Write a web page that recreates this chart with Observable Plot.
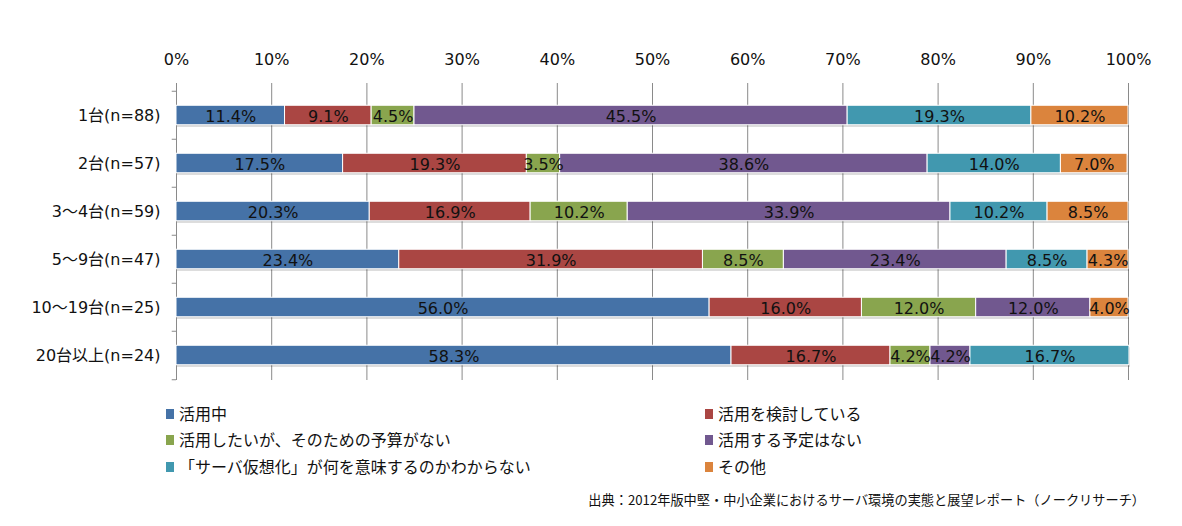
<!DOCTYPE html>
<html>
<head>
<meta charset="utf-8">
<script src="https://cdn.jsdelivr.net/npm/d3@7"></script>
<script src="https://cdn.jsdelivr.net/npm/@observablehq/plot@0.6"></script>
<style>
  body { margin: 0; background: #fff; }
  #wrap { position: relative; width: 1182px; height: 526px; overflow: hidden; font-family: "DejaVu Sans", "Noto Sans CJK JP", sans-serif; }
  .lg { position: absolute; font-family: "Noto Sans CJK JP", sans-serif; font-size: 16px; color: #111; line-height: 20px; white-space: nowrap; }
  .sw { position: absolute; width: 8px; height: 10px; }
  #src { position: absolute; right: 37px; top: 490px; font-family: "Noto Sans CJK JP", sans-serif; font-size: 13.2px; color: #111; white-space: nowrap; }
</style>
</head>
<body>
<div id="wrap"><div id="chart"></div></div>
<script>
const categories = ["1台(n=88)", "2台(n=57)", "3～4台(n=59)", "5～9台(n=47)", "10～19台(n=25)", "20台以上(n=24)"];
const series = ["活用中", "活用を検討している", "活用したいが、そのための予算がない", "活用する予定はない", "「サーバ仮想化」が何を意味するのかわからない", "その他"];
const colors = ["#4572A7", "#AA4643", "#89A54E", "#71588F", "#4198AF", "#DB843D"];
const katsuyou  = [11.4, 17.5, 20.3, 23.4, 56.0, 58.3];
const kentou    = [9.1, 19.3, 16.9, 31.9, 16.0, 16.7];
const yosan     = [4.5, 3.5, 10.2, 8.5, 12.0, 4.2];
const yotei     = [45.5, 38.6, 33.9, 23.4, 12.0, 4.2];
const wakaranai = [19.3, 14.0, 10.2, 8.5, 0, 16.7];
const sonota    = [10.2, 7.0, 8.5, 4.3, 4.0, 0];
const xTicks = [0, 10, 20, 30, 40, 50, 60, 70, 80, 90, 100];
const source = "出典：2012年版中堅・中小企業におけるサーバ環境の実態と展望レポート（ノークリサーチ）";

const seriesValues = [katsuyou, kentou, yosan, yotei, wakaranai, sonota];
const data = [];
categories.forEach((c, i) => {
  series.forEach((s, j) => data.push({cat: c, series: s, value: seriesValues[j][i]}));
});

const bandH = (380 - 89) / categories.length;
const inset = (bandH - 20) / 2;

const chart = Plot.plot({
  width: 1182,
  height: 395,
  marginLeft: 176,
  marginRight: 54,
  marginTop: 83,
  marginBottom: 15,
  style: {fontFamily: "'DejaVu Sans', 'Noto Sans CJK JP', sans-serif", fontSize: "16px", color: "#111", background: "#fff"},
  x: {domain: [0, 100], label: null},
  y: {domain: categories, range: [89, 380], padding: 0, label: null},
  color: {domain: series, range: colors},
  marks: [
    Plot.ruleX(xTicks, {stroke: "#8a8a8a", strokeWidth: 1, strokeOpacity: 1}),
    Plot.ruleY(categories, {y: d => d, x1: -0.45, x2: 0, dy: -bandH / 2, stroke: "#8a8a8a"}),
    Plot.ruleY([categories[categories.length - 1]], {y: d => d, x1: -0.45, x2: 0, dy: bandH / 2, stroke: "#8a8a8a"}),
    Plot.barX(data, Plot.stackX({x: "value", y: "cat", z: "series", fill: "#000", fillOpacity: 0.18, insetTop: inset, insetBottom: inset, dx: 1, dy: 2})),
    Plot.barX(data, Plot.stackX({x: "value", y: "cat", z: "series", fill: "series", stroke: "#fff", strokeWidth: 1, insetTop: inset, insetBottom: inset})),
    Plot.text(data, Plot.stackX({x: "value", y: "cat", z: "series", filter: d => d.value > 0, text: d => d.value.toFixed(1) + "%", fill: "#111", fontSize: 16, dy: 1})),
    Plot.axisX({anchor: "top", ticks: xTicks, tickFormat: d => d + "%", tickSize: 0, tickPadding: 19, fontSize: 16, label: null}),
    Plot.axisY({anchor: "left", tickSize: 0, tickPadding: 16, fontSize: 16, label: null})
  ]
});
document.getElementById("chart").appendChild(chart);

const wrap = document.getElementById("wrap");
const legendPos = [
  [166, 413], [705, 413],
  [166, 439], [705, 439],
  [166, 466], [705, 466]
];
series.forEach((s, i) => {
  const [x, y] = legendPos[i];
  const sw = document.createElement("div");
  sw.className = "sw";
  sw.style.left = x + "px";
  sw.style.top = (y - 4) + "px";
  sw.style.background = colors[i];
  wrap.appendChild(sw);
  const t = document.createElement("div");
  t.className = "lg";
  t.style.left = (x + 13) + "px";
  t.style.top = (y - 10) + "px";
  t.textContent = s;
  wrap.appendChild(t);
});
const src = document.createElement("div");
src.id = "src";
src.textContent = source;
wrap.appendChild(src);
</script>
</body>
</html>
